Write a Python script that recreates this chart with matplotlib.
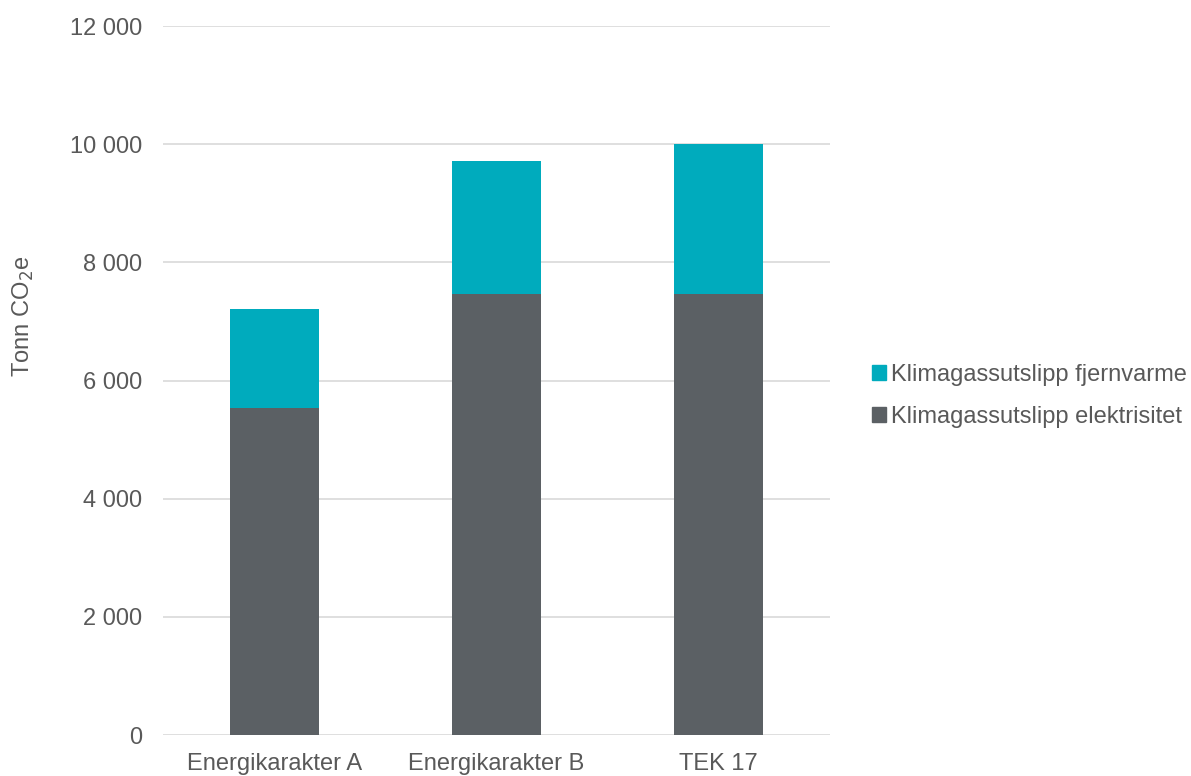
import matplotlib
matplotlib.use("Agg")
import matplotlib.pyplot as plt
from matplotlib.ticker import FuncFormatter
from matplotlib.patches import Patch

plt.rcParams['font.family'] = ['Liberation Sans', 'DejaVu Sans']

categories = ["Energikarakter A", "Energikarakter B", "TEK 17"]
elektrisitet = [5540, 7460, 7460]
fjernvarme = [1670, 2250, 2540]
yticks = [0, 2000, 4000, 6000, 8000, 10000, 12000]

TEAL = "#00ABBD"
GRAY = "#5B6064"
TEXT = "#595959"
FS = 17

fig = plt.figure(figsize=(11.91, 7.76), dpi=100)
ax = fig.add_axes([163 / 1191, 41 / 776, 667 / 1191, 709 / 776])

x = range(len(categories))
ax.bar(x, elektrisitet, width=0.4, color=GRAY, zorder=3)
ax.bar(x, fjernvarme, width=0.4, bottom=elektrisitet, color=TEAL, zorder=3)

ax.set_xlim(-0.5, 2.5)
ax.set_ylim(0, 12000)
ax.set_yticks(yticks)
ax.yaxis.set_major_formatter(FuncFormatter(lambda v, p: f"{int(v):,}".replace(",", " ")))
ax.set_xticks(list(x))
ax.set_xticklabels(categories)
ax.grid(axis="y", color="#D9D9D9", linewidth=1.2, zorder=0)
for s in ax.spines.values():
    s.set_visible(False)
ax.tick_params(length=0, labelsize=FS, colors=TEXT)
ax.tick_params(axis="x", pad=13)
ax.tick_params(axis="y", pad=15)

ax.set_ylabel("Tonn CO$_2$e", fontsize=FS, color=TEXT)
ax.yaxis.set_label_coords((36 - 163) / 667, 0.59)

handles = [Patch(color=TEAL, label="Klimagassutslipp fjernvarme"),
           Patch(color=GRAY, label="Klimagassutslipp elektrisitet")]
fig.legend(handles=handles, loc="center left", bbox_to_anchor=(872 / 1191, 1 - 396 / 776),
           frameon=False, fontsize=FS, labelcolor=TEXT, handlelength=0.6,
           handleheight=0.6, handletextpad=0.2, labelspacing=0.85,
           borderpad=0, borderaxespad=0)

fig.savefig("out.png", dpi=100)
